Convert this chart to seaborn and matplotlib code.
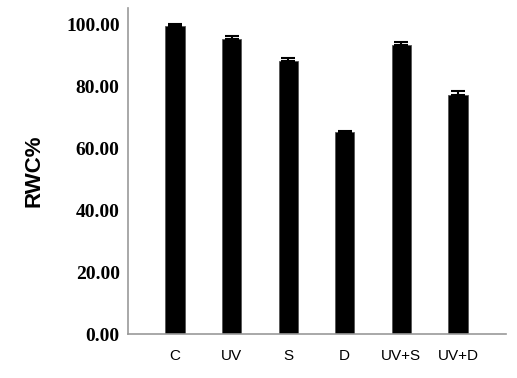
import numpy as np
import pandas as pd
import matplotlib
matplotlib.use("Agg")
import matplotlib.pyplot as plt
import seaborn as sns

# RWC% per treatment
treatments = ["C", "UV", "S", "D", "UV+S", "UV+D"]
rwc = [99.5, 95.3, 88.2, 65.2, 93.2, 77.1]
rwc_err = [0.6, 1.0, 1.0, 0.4, 1.0, 1.2]
yticks = [0, 20, 40, 60, 80, 100]

df = pd.DataFrame({"treatment": treatments, "rwc": rwc})

sns.set_style("white")
fig = plt.figure(figsize=(5.17, 3.78), dpi=100)
ax = fig.add_axes([0.2476, 0.1164, 0.7311, 0.8624])

sns.barplot(data=df, x="treatment", y="rwc", color="black", width=0.34,
            errorbar=None, saturation=1, ax=ax)
for p in ax.patches:
    p.set_edgecolor("#555555")
    p.set_linewidth(0.6)

# upper-only error bars
xpos = np.arange(len(treatments))
ax.errorbar(xpos, rwc, yerr=[np.zeros(len(rwc)), rwc_err], fmt="none",
            ecolor="black", elinewidth=1.5, capsize=5, capthick=1.5)

ax.set_xlim(-0.83, 5.85)
ax.set_ylim(0, 105.2)
ax.set_yticks(yticks)
ax.set_yticklabels([f"{v:.2f}" for v in yticks], fontfamily="Liberation Serif",
                   fontweight="bold", fontsize=14, color="black")
ax.set_xticks(xpos)
ax.set_xticklabels(treatments, fontfamily="Liberation Sans", fontsize=11, color="black")
ax.tick_params(axis="both", direction="out", length=5, width=1.3, color="#222222")
ax.tick_params(axis="x", pad=6)
ax.tick_params(axis="y", pad=1)

for s in ["top", "right"]:
    ax.spines[s].set_visible(False)
for s in ["left", "bottom"]:
    ax.spines[s].set_color("#999999")
    ax.spines[s].set_linewidth(1.2)

ax.set_xlabel("")
ax.set_ylabel("RWC%", fontfamily="Liberation Sans", fontweight="bold", fontsize=16,
              color="black")
ax.yaxis.set_label_coords(-0.22, 0.5)

fig.savefig("out.png", dpi=100)
